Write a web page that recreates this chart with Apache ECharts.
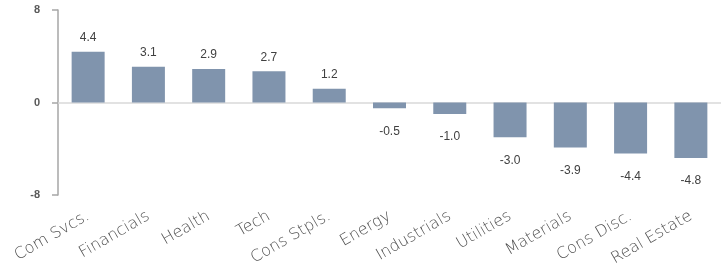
<!DOCTYPE html>
<html>
<head>
<meta charset="utf-8">
<script src="https://cdn.jsdelivr.net/npm/echarts@6/dist/echarts.min.js"></script>
<style>
  html, body { margin: 0; padding: 0; background: #fff; }
  #chart { width: 725px; height: 274px; }
</style>
</head>
<body>
<div id="chart"></div>
<script>
// sectors and their values
const sectors = ['Com Svcs.', 'Financials', 'Health', 'Tech', 'Cons Stpls.', 'Energy',
  'Industrials', 'Utilities', 'Materials', 'Cons Disc.', 'Real Estate'];
const values = [4.4, 3.1, 2.9, 2.7, 1.2, -0.5, -1.0, -3.0, -3.9, -4.4, -4.8];
const yTicks = [-8, 0, 8];

const chart = echarts.init(document.getElementById('chart'));

// labels go above positive bars and below negative ones
const barData = values.map(v => ({
  value: v,
  label: v >= 0
    ? { position: 'top', distance: 8 }
    : { position: 'bottom', distance: 17 }
}));

const option = {
  animation: false,
  grid: { left: 58, right: 4, top: 10, bottom: 79 },
  xAxis: {
    type: 'category',
    data: sectors,
    axisLine: { show: false },
    axisTick: { show: false },
    axisLabel: {
      rotate: 30,
      margin: 20,
      interval: 0,
      fontFamily: 'DejaVu Sans',
      fontWeight: 200,
      fontSize: 16,
      color: '#505050'
    }
  },
  yAxis: {
    type: 'value',
    min: yTicks[0],
    max: yTicks[yTicks.length - 1],
    interval: 8,
    axisLine: { show: true, lineStyle: { color: '#a6a6a6', width: 1.5 } },
    axisTick: { show: true, length: 6, lineStyle: { color: '#a6a6a6', width: 1.5 } },
    splitLine: { show: false },
    axisLabel: {
      margin: 18,
      fontFamily: 'Liberation Sans, Arial',
      fontWeight: 'bold',
      fontSize: 11,
      color: '#595959'
    }
  },
  series: [{
    type: 'bar',
    data: barData,
    barWidth: 33,
    itemStyle: { color: '#8094ad' },
    label: {
      show: true,
      formatter: p => p.value.toFixed(1),
      fontFamily: 'Liberation Sans, Arial',
      fontSize: 12,
      color: '#404040'
    },
    markLine: {
      silent: true,
      symbol: 'none',
      z: 1,
      label: { show: false },
      lineStyle: { color: '#d9d9d9', type: 'solid', width: 1.5 },
      data: [{ yAxis: 0 }]
    }
  }]
};

chart.setOption(option);
</script>
</body>
</html>
